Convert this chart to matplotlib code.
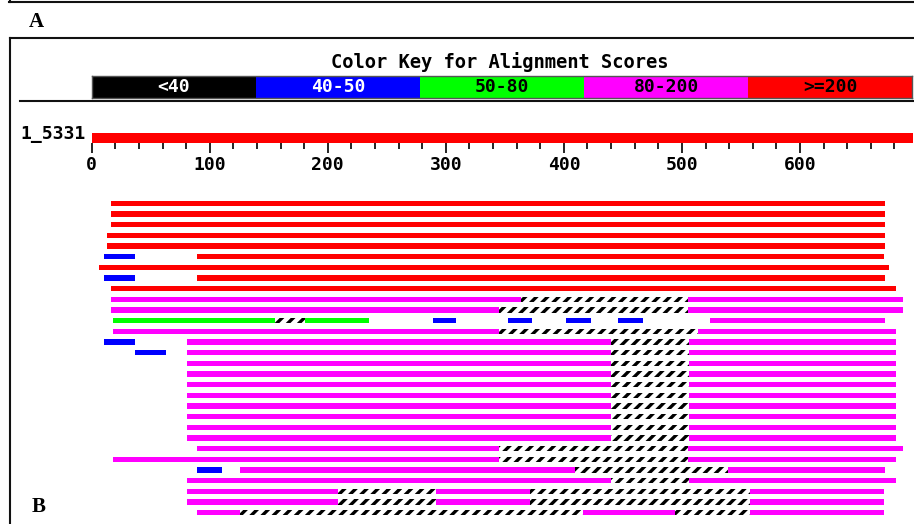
import matplotlib
matplotlib.use("Agg")
import matplotlib.pyplot as plt
from matplotlib.lines import Line2D

# ---------------- data ----------------
query_name = "1_5331"
query_length = 696
major_ticks = [0, 100, 200, 300, 400, 500, 600]
minor_step = 20

key_title = "Color Key for Alignment Scores"
key_labels = ["<40", "40-50", "50-80", "80-200", ">=200"]
key_colors = ["#000000", "#0000FF", "#00FF00", "#FF00FF", "#FF0000"]
key_text_colors = ["white", "white", "black", "black", "black"]

n_rows = 30

# (row, start, end) in query coordinates
red_segments = [
    (0, 16, 672), (1, 16, 672), (2, 16, 672), (3, 13, 672), (4, 13, 672),
    (5, 89, 671), (6, 6, 675), (7, 89, 672), (8, 16, 681),
]
blue_segments = [
    (5, 10, 37), (7, 10, 37), (11, 289, 309), (11, 353, 373), (11, 402, 423),
    (11, 446, 467), (13, 10, 37), (14, 37, 63), (25, 89, 110),
]
green_segments = [
    (11, 18, 155), (11, 181, 235),
]
magenta_segments = [
    (9, 16, 364), (9, 505, 687),
    (10, 16, 345), (10, 505, 687),
    (11, 524, 672),
    (12, 18, 345), (12, 514, 681),
    (13, 81, 440), (13, 506, 681),
    (14, 81, 440), (14, 506, 681),
    (15, 81, 440), (15, 506, 681),
    (16, 81, 440), (16, 506, 681),
    (17, 81, 440), (17, 506, 681),
    (18, 81, 440), (18, 506, 681),
    (19, 81, 440), (19, 506, 681),
    (20, 81, 440), (20, 506, 681),
    (21, 81, 440), (21, 506, 681),
    (22, 81, 440), (22, 506, 681),
    (23, 89, 345), (23, 505, 687),
    (24, 18, 345), (24, 505, 681),
    (25, 126, 409), (25, 539, 672),
    (26, 81, 440), (26, 506, 681),
    (27, 81, 209), (27, 292, 371), (27, 558, 671),
    (28, 81, 209), (28, 292, 371), (28, 558, 671),
    (29, 89, 126), (29, 416, 494), (29, 558, 671),
]
gap_segments = [
    (9, 364, 505), (10, 345, 505), (11, 155, 181), (12, 345, 514),
    (13, 440, 506), (14, 440, 506), (15, 440, 506), (16, 440, 506),
    (17, 440, 506), (18, 440, 506), (19, 440, 506), (20, 440, 506),
    (21, 440, 506), (22, 440, 506),
    (23, 345, 505), (24, 345, 505), (25, 409, 539), (26, 440, 506),
    (27, 209, 292), (27, 371, 558), (28, 209, 292), (28, 371, 558),
    (29, 126, 416), (29, 494, 558),
]

# ---------------- layout ----------------
W, H = 914, 524
plt.rcParams['hatch.linewidth'] = 2.4
plt.rcParams['hatch.color'] = 'black'
MONO = ['DejaVu Sans Mono']
SERIF = ['Liberation Serif', 'DejaVu Serif']

fig = plt.figure(figsize=(W / 100, H / 100), dpi=100)


def rect(x0, y0, x1, y1):
    return [x0 / W, 1 - y1 / H, (x1 - x0) / W, (y1 - y0) / H]


# decoration layer in pixel coordinates
deco = fig.add_axes([0, 0, 1, 1], zorder=0)
deco.set_xlim(0, W)
deco.set_ylim(H, 0)
deco.axis('off')

lc = '#111111'
lw = 1.5
deco.add_line(Line2D([9, W], [1.5, 1.5], color=lc, lw=lw))
deco.add_line(Line2D([9.5, 9.5], [0, 1.5], color=lc, lw=lw))
deco.add_line(Line2D([10, W], [38, 38], color=lc, lw=lw))
deco.add_line(Line2D([10, 10], [38, H], color=lc, lw=lw))
deco.add_line(Line2D([20, W], [101, 101], color=lc, lw=lw))

deco.text(36, 22, "A", ha='center', va='center', fontsize=15,
          fontweight='bold', family=SERIF)
deco.text(38.5, 507, "B", ha='center', va='center', fontsize=15,
          fontweight='bold', family=SERIF)
deco.text(500, 62, key_title, ha='center', va='center', fontsize=13.5,
          fontweight='bold', family=MONO)
deco.text(86, 134, query_name, ha='right', va='center', fontsize=13,
          fontweight='bold', family=MONO)

# color key
kax = fig.add_axes(rect(91.7, 76, 912.3, 97.7), zorder=1)
kpos = list(range(len(key_labels)))
kax.barh([0] * len(kpos), [1] * len(kpos), left=kpos, height=1,
         color=key_colors, edgecolor='none')
for i, (lab, tc) in enumerate(zip(key_labels, key_text_colors)):
    kax.text(i + 0.5, 0, lab, ha='center', va='center', color=tc,
             fontsize=13, fontweight='bold', family=MONO)
kax.set_xlim(0, len(key_labels))
kax.set_ylim(-0.5, 0.5)
kax.set_xticks([])
kax.set_yticks([])
for s in kax.spines.values():
    s.set_color('#555555')
    s.set_linewidth(1.0)

# ruler / query bar
x_left, x_right = 91.7, 913.3
rax = fig.add_axes(rect(x_left, 132.7, x_right, 142.7), zorder=1)
rax.barh([0.5], [query_length], left=0, height=1, color='#FF0000')
rax.set_xlim(0, query_length)
rax.set_ylim(0, 1)
for s in rax.spines.values():
    s.set_visible(False)
rax.set_yticks([])
rax.set_xticks(major_ticks)
rax.set_xticklabels([str(t) for t in major_ticks], fontsize=13,
                    fontweight='bold', family=MONO)
rax.set_xticks([t for t in range(minor_step, query_length, minor_step)
                if t % 100 != 0], minor=True)
rax.tick_params(axis='x', which='major', direction='out', length=7.5,
                width=1.2, pad=2, color='black')
rax.tick_params(axis='x', which='minor', direction='out', length=4,
                width=1.2, color='black')

# hit rows
hax = fig.add_axes(rect(x_left, 198, x_right, 518), zorder=1)
hax.set_xlim(0, query_length)
hax.set_ylim(n_rows - 0.5, -0.5)
hax.axis('off')
bar_h = 0.5


def draw(segs, color, hatch=None):
    for row, s, e in segs:
        if hatch:
            hax.broken_barh([(s, e - s)], (row - bar_h / 2, bar_h),
                            facecolors='white', edgecolors='black',
                            linewidth=0, hatch=hatch)
        else:
            hax.broken_barh([(s, e - s)], (row - bar_h / 2, bar_h),
                            facecolors=color, edgecolors='none')


draw(red_segments, '#FF0000')
draw(blue_segments, '#0000FF')
draw(green_segments, '#00FF00')
draw(magenta_segments, '#FF00FF')
draw(gap_segments, None, hatch='///')

fig.savefig('out.png', dpi=100)
